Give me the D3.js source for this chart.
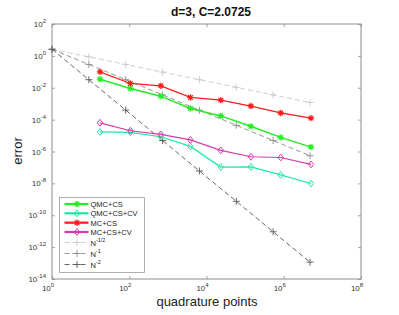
<!DOCTYPE html>
<html>
<head>
<meta charset="utf-8">
<script src="https://cdn.jsdelivr.net/npm/d3@7"></script>
<style>
  body { margin: 0; background: #fff; }
  svg { font-family: "Liberation Sans", Arial, sans-serif; }
</style>
</head>
<body>
<svg id="chart" width="399" height="315"></svg>
<script>
// quadrature points for the methods and for the reference lines
var nPunkter = [17.5, 107, 655, 3830, 23400, 141000, 832000, 5070000];
var nRef = [1, 9, 81, 729, 6561, 59049, 531441, 4782969];

// error values
var qmcCS   = [0.0346, 0.00904, 0.00297, 5.04e-4, 1.71e-4, 3.8e-5, 7.66e-6, 1.89e-6];
var qmcCSCV = [1.72e-5, 1.58e-5, 8.4e-6, 2.09e-6, 1.05e-7, 1.07e-7, 3.4e-8, 9.8e-9];
var mcCS    = [0.099, 0.0186, 0.0132, 0.00247, 0.00167, 7.1e-4, 2.63e-4, 1.24e-4];
var mcCSCV  = [6.3e-5, 2.0e-5, 1.18e-5, 5.4e-6, 1.17e-6, 4.7e-7, 4.2e-7, 1.55e-7];
var refHalv = [2.6, 0.87, 0.29, 0.096, 0.032, 0.0107, 0.00357, 0.00119];
var refEn   = [2.6, 0.29, 0.032, 0.00357, 3.96e-4, 4.4e-5, 4.9e-6, 5.4e-7];
var refTo   = [2.6, 0.032, 3.96e-4, 4.9e-6, 6.0e-8, 7.5e-10, 9.2e-12, 1.14e-13];

var xTickExp = [0, 2, 4, 6, 8];
var yTickExp = [2, 0, -2, -4, -6, -8, -10, -12, -14];

var serier = [
    {navn: "QMC+CS",    x: nPunkter, y: qmcCS,   farge: "#22ee22", markor: "stjerne", strek: null, bredde: 1.5},
    {navn: "QMC+CS+CV", x: nPunkter, y: qmcCSCV, farge: "#1de9a0", markor: "diamant", strek: null, bredde: 1.2},
    {navn: "MC+CS",     x: nPunkter, y: mcCS,    farge: "#ff1a1a", markor: "stjerne", strek: null, bredde: 1.2},
    {navn: "MC+CS+CV",  x: nPunkter, y: mcCSCV,  farge: "#d63aaa", markor: "diamant", strek: null, bredde: 1.2},
    {navn: "N", eks: "-1/2", x: nRef, y: refHalv, farge: "#c8c8c8", markor: "pluss", strek: "5,3", bredde: 0.9},
    {navn: "N", eks: "-1",   x: nRef, y: refEn,   farge: "#8a8a8a", markor: "pluss", strek: "5,3", bredde: 0.9},
    {navn: "N", eks: "-2",   x: nRef, y: refTo,   farge: "#555555", markor: "pluss", strek: "5,3", bredde: 0.9}
];

var svg = d3.select("#chart");
var venstre = 52, hoyre = 361, topp = 24, bunn = 279;

var x = d3.scaleLog().domain([1, 1e8]).range([venstre, hoyre]);
var y = d3.scaleLog().domain([1e-14, 1e2]).range([bunn, topp]);

// axes box with inward ticks
var akseFarge = "#8c8c8c";
var xVerdier = xTickExp.map(function(e) { return Math.pow(10, e); });
var yVerdier = yTickExp.map(function(e) { return Math.pow(10, e); });

function stilAkse(g) {
    g.select(".domain").remove();
    g.selectAll(".tick line").attr("stroke", akseFarge).attr("stroke-width", 0.8);
    g.selectAll(".tick text").remove();
}

svg.append("g").attr("transform", "translate(0," + bunn + ")")
    .call(d3.axisTop(x).tickValues(xVerdier).tickSize(3).tickFormat("")).call(stilAkse);
svg.append("g").attr("transform", "translate(0," + topp + ")")
    .call(d3.axisBottom(x).tickValues(xVerdier).tickSize(3).tickFormat("")).call(stilAkse);
svg.append("g").attr("transform", "translate(" + venstre + ",0)")
    .call(d3.axisRight(y).tickValues(yVerdier).tickSize(3).tickFormat("")).call(stilAkse);
svg.append("g").attr("transform", "translate(" + hoyre + ",0)")
    .call(d3.axisLeft(y).tickValues(yVerdier).tickSize(3).tickFormat("")).call(stilAkse);

svg.append("rect")
    .attr("x", venstre).attr("y", topp)
    .attr("width", hoyre - venstre).attr("height", bunn - topp)
    .attr("fill", "none").attr("stroke", akseFarge).attr("stroke-width", 1);

// tick labels with superscript
function tiErPotens(g, e) {
    g.append("tspan").text("10");
    g.append("tspan").attr("dy", -4).style("font-size", "6px").text(e);
}

xTickExp.forEach(function(e) {
    var t = svg.append("text")
        .attr("x", x(Math.pow(10, e)) - 4).attr("y", bunn + 12)
        .attr("text-anchor", "middle")
        .style("font-size", "8px").style("fill", "#333");
    tiErPotens(t, e);
});

yTickExp.forEach(function(e) {
    var t = svg.append("text")
        .attr("x", venstre - 6).attr("y", y(Math.pow(10, e)) + 3)
        .attr("text-anchor", "end")
        .style("font-size", "8px").style("fill", "#333");
    tiErPotens(t, e);
});

// markers
function tegnMarkor(g, type, cx, cy, farge) {
    if (type === "stjerne") {
        var r = 3.2;
        g.append("path")
            .attr("d", "M" + (cx - r) + "," + cy + "H" + (cx + r) +
                "M" + cx + "," + (cy - r) + "V" + (cy + r) +
                "M" + (cx - r * 0.72) + "," + (cy - r * 0.72) + "L" + (cx + r * 0.72) + "," + (cy + r * 0.72) +
                "M" + (cx - r * 0.72) + "," + (cy + r * 0.72) + "L" + (cx + r * 0.72) + "," + (cy - r * 0.72))
            .attr("stroke", farge).attr("stroke-width", 1.2).attr("fill", "none");
    }
    else if (type === "diamant") {
        var d = 3.4;
        g.append("path")
            .attr("d", "M" + cx + "," + (cy - d) + "L" + (cx + d * 0.8) + "," + cy +
                "L" + cx + "," + (cy + d) + "L" + (cx - d * 0.8) + "," + cy + "Z")
            .attr("stroke", farge).attr("stroke-width", 1).attr("fill", "none");
    }
    else {
        var p = 3.5;
        g.append("path")
            .attr("d", "M" + (cx - p) + "," + cy + "H" + (cx + p) + "M" + cx + "," + (cy - p) + "V" + (cy + p))
            .attr("stroke", farge).attr("stroke-width", 0.9).attr("fill", "none");
    }
}

var linje = d3.line()
    .x(function(d) { return x(d[0]); })
    .y(function(d) { return y(d[1]); });

// draw reference lines first (they lie under the data in the picture)
var rekkefolge = [4, 5, 6, 0, 1, 2, 3];
rekkefolge.forEach(function(i) {
    var s = serier[i];
    var punkter = s.x.map(function(v, j) { return [v, s.y[j]]; });
    var g = svg.append("g");
    g.append("path")
        .datum(punkter)
        .attr("d", linje)
        .attr("fill", "none")
        .attr("stroke", s.farge)
        .attr("stroke-width", s.bredde)
        .attr("stroke-dasharray", s.strek);
    punkter.forEach(function(p) {
        tegnMarkor(g, s.markor, x(p[0]), y(p[1]), s.farge);
    });
});

// legend
var lx = 59.5, ly = 197.5, lb = 85, lh = 75;
svg.append("rect")
    .attr("x", lx).attr("y", ly).attr("width", lb).attr("height", lh)
    .attr("fill", "#fff").attr("stroke", "#999").attr("stroke-width", 0.8);

var radY = [204, 213.3, 222.7, 232, 242.5, 253.5, 264.5];
serier.forEach(function(s, i) {
    var ry = radY[i];
    var g = svg.append("g");
    g.append("line")
        .attr("x1", lx + 5).attr("x2", lx + 29)
        .attr("y1", ry).attr("y2", ry)
        .attr("stroke", s.farge)
        .attr("stroke-width", s.strek ? s.bredde : 2.2)
        .attr("stroke-dasharray", s.strek);
    tegnMarkor(g, s.markor, lx + 17.5, ry, s.farge);
    var t = g.append("text")
        .attr("x", lx + 31).attr("y", ry + 3)
        .style("font-size", "7.5px").style("fill", "#222");
    t.append("tspan").text(s.navn);
    if (s.eks) {
        t.append("tspan").attr("dy", -3.5).style("font-size", "5.5px").text(s.eks);
    }
});

// title and axis labels
svg.append("text")
    .attr("x", 211).attr("y", 16)
    .attr("text-anchor", "middle")
    .style("font-size", "12px").style("font-weight", "bold").style("fill", "#111")
    .text("d=3, C=2.0725");

svg.append("text")
    .attr("x", 207).attr("y", 306)
    .attr("text-anchor", "middle")
    .style("font-size", "13px").style("fill", "#222")
    .text("quadrature points");

svg.append("text")
    .attr("transform", "translate(22,151) rotate(-90)")
    .attr("text-anchor", "middle")
    .style("font-size", "13px").style("fill", "#222")
    .text("error");
</script>
</body>
</html>
